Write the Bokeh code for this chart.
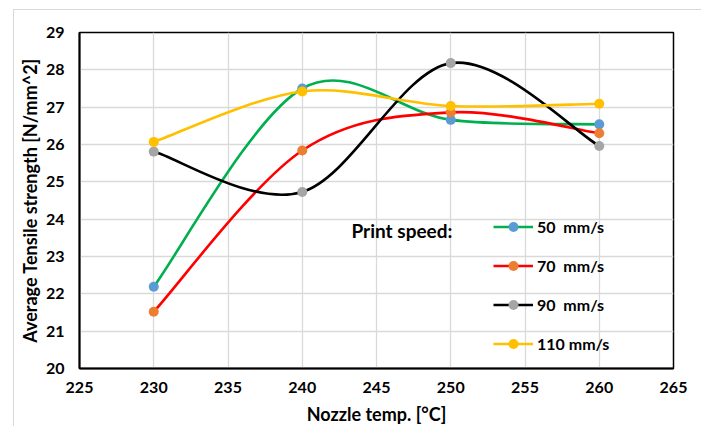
from bokeh.plotting import figure
from bokeh.models import Range1d, FixedTicker, Legend, LegendItem, Label
from bokeh.embed import file_html
from bokeh.resources import INLINE

# ---- data ----
temps = [230, 240, 250, 260]
speed_labels = ["50  mm/s", "70  mm/s", "90  mm/s", "110 mm/s"]
s50 = [22.19, 27.50, 26.66, 26.54]
s70 = [21.52, 25.84, 26.86, 26.30]
s90 = [25.81, 24.73, 28.18, 25.96]
s110 = [26.07, 27.42, 27.03, 27.09]
x_ticks = [225, 230, 235, 240, 245, 250, 255, 260, 265]
y_ticks = [20, 21, 22, 23, 24, 25, 26, 27, 28, 29]

series = [s50, s70, s90, s110]
line_colors = ["#00B050", "#FF0000", "#000000", "#FFC000"]
marker_colors = ["#5B9BD5", "#ED7D31", "#A5A5A5", "#FFC000"]

FONT = "Lato"


def smooth_segments(xs, ys):
    """Bezier control points of a Catmull-Rom style smoothed line through the points."""
    n = len(xs)
    out = dict(x0=[], y0=[], x1=[], y1=[], cx0=[], cy0=[], cx1=[], cy1=[])
    for i in range(n - 1):
        p0 = i - 1 if i > 0 else 0
        p3 = i + 2 if i + 2 < n else n - 1
        out["x0"].append(xs[i]); out["y0"].append(ys[i])
        out["x1"].append(xs[i + 1]); out["y1"].append(ys[i + 1])
        out["cx0"].append(xs[i] + (xs[i + 1] - xs[p0]) / 6.0)
        out["cy0"].append(ys[i] + (ys[i + 1] - ys[p0]) / 6.0)
        out["cx1"].append(xs[i + 1] - (xs[p3] - xs[i]) / 6.0)
        out["cy1"].append(ys[i + 1] - (ys[p3] - ys[i]) / 6.0)
    return out


p = figure(width=688, height=417, output_backend="svg", toolbar_location=None,
           x_range=Range1d(225, 265), y_range=Range1d(20, 29),
           min_border_left=65, min_border_right=29, min_border_top=22, min_border_bottom=57,
           margin=(9, 0, 0, 13),
           styles={"border-top": "1px solid #d9d9d9", "border-left": "1px solid #d9d9d9"})

p.outline_line_color = "#000000"
p.outline_line_width = 1.5
p.background_fill_color = "white"
p.border_fill_color = "white"

for ax in (p.xaxis[0], p.yaxis[0]):
    ax.axis_line_color = "#000000"
    ax.axis_line_width = 2
    ax.major_tick_line_color = None
    ax.minor_tick_line_color = None
    ax.major_tick_in = 0
    ax.major_tick_out = 0
    ax.major_label_text_font = FONT
    ax.major_label_text_font_style = "bold"
    ax.major_label_text_font_size = "16px"
    ax.major_label_text_color = "#000000"

p.xaxis.ticker = FixedTicker(ticks=x_ticks)
p.yaxis.ticker = FixedTicker(ticks=y_ticks)
p.xaxis.major_label_standoff = 13
p.yaxis.major_label_standoff = 15

p.yaxis.axis_label = "Average Tensile strength [N/mm^2]"
p.yaxis.axis_label_text_font = FONT
p.yaxis.axis_label_text_font_style = "bold"
p.yaxis.axis_label_text_font_size = "18px"
p.yaxis.axis_label_text_color = "#000000"
p.yaxis.axis_label_standoff = 2

p.xaxis.axis_label = "Nozzle temp. [°C]"
p.xaxis.axis_label_text_font = FONT
p.xaxis.axis_label_text_font_style = "bold"
p.xaxis.axis_label_text_font_size = "18px"
p.xaxis.axis_label_text_color = "#000000"
p.xaxis.axis_label_standoff = 7

p.xgrid.grid_line_color = "#d9d9d9"
p.ygrid.grid_line_color = "#d9d9d9"
p.xgrid.grid_line_width = 1.3
p.ygrid.grid_line_width = 1.3

items = []
for ys, lc, mc, lab in zip(series, line_colors, marker_colors, speed_labels):
    seg = smooth_segments(temps, ys)
    r_line = p.bezier(x0="x0", y0="y0", x1="x1", y1="y1", cx0="cx0", cy0="cy0",
                      cx1="cx1", cy1="cy1", source=seg, line_color=lc, line_width=2.6)
    r_pts = p.scatter(temps, ys, size=10, fill_color=mc, line_color=mc, line_width=0)
    items.append(LegendItem(label=lab, renderers=[r_line, r_pts]))

legend = Legend(items=items, location=(414, 12), orientation="vertical",
                glyph_width=40, glyph_height=25, label_height=25, spacing=14,
                label_standoff=4, padding=0, margin=0,
                border_line_color=None, background_fill_alpha=0,
                label_text_font=FONT, label_text_font_style="bold",
                label_text_font_size="16px", label_text_color="#000000")
p.add_layout(legend, "center")

p.add_layout(Label(x=272, y=138, x_units="screen", y_units="screen",
                   text="Print speed:", text_font=FONT, text_font_style="bold",
                   text_font_size="19px", text_color="#000000",
                   text_baseline="alphabetic", text_align="left"))

open("out.html", "w").write(file_html(p, INLINE))
